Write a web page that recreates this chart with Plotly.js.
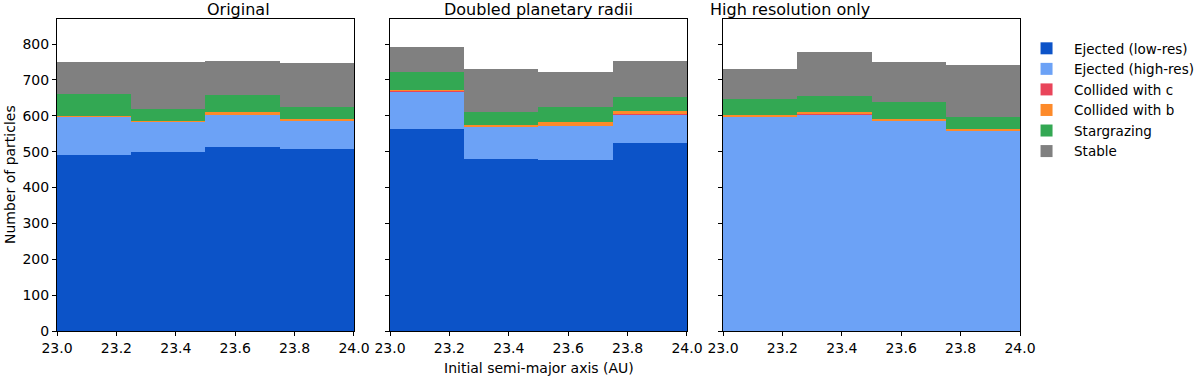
<!DOCTYPE html>
<html>
<head>
<meta charset="utf-8">
<script src="https://cdn.plot.ly/plotly-3.0.1.min.js"></script>
<style>
  body { margin: 0; background: #fff; }
  #chartDiv { width: 1200px; height: 376px; }
</style>
</head>
<body>
<div id="chartDiv"></div>
<script>
// bin centres (bins are 0.25 AU wide, from 23.0 to 24.0)
var binCentres = [23.125, 23.375, 23.625, 23.875];
var binWidth = 0.25;

var seriesNames = ['Ejected (low-res)', 'Ejected (high-res)', 'Collided with c',
                   'Collided with b', 'Stargrazing', 'Stable'];
var seriesColors = ['#0c53c8', '#6ca2f6', '#e9455a', '#fd8a2a', '#33a853', '#808080'];

var panelTitles = ['Original', 'Doubled planetary radii', 'High resolution only'];

// counts per bin
var origLowRes   = [490, 500, 513, 508];
var origHighRes  = [106, 83, 89, 77];
var origCollC    = [1, 1, 1, 1];
var origCollB    = [3, 1, 7, 5];
var origStar     = [61, 33, 48, 34];
var origStable   = [88, 133, 95, 122];

var dblLowRes    = [563, 479, 478, 523];
var dblHighRes   = [104, 89, 93, 79];
var dblCollC     = [1, 1, 1, 4];
var dblCollB     = [4, 6, 11, 7];
var dblStar      = [50, 36, 43, 39];
var dblStable    = [70, 119, 97, 100];

var hiLowRes     = [0, 0, 0, 0];
var hiHighRes    = [597, 603, 585, 557];
var hiCollC      = [1, 1, 1, 1];
var hiCollB      = [5, 6, 5, 6];
var hiStar       = [43, 45, 48, 32];
var hiStable     = [84, 124, 110, 145];

var panels = [
    [origLowRes, origHighRes, origCollC, origCollB, origStar, origStable],
    [dblLowRes, dblHighRes, dblCollC, dblCollB, dblStar, dblStable],
    [hiLowRes, hiHighRes, hiCollC, hiCollB, hiStar, hiStable]
];

var data = [];
for (var p = 0; p < panels.length; p++) {
    for (var s = 0; s < seriesNames.length; s++) {
        data.push({
            type: 'bar',
            x: binCentres,
            y: panels[p][s],
            width: binWidth,
            name: seriesNames[s],
            legendgroup: seriesNames[s],
            showlegend: p == 0,
            marker: { color: seriesColors[s], line: { width: 0 } },
            xaxis: p == 0 ? 'x' : 'x' + (p + 1),
            yaxis: p == 0 ? 'y' : 'y' + (p + 1),
            hoverinfo: 'x+y+name'
        });
    }
}

var axisFont = { family: 'DejaVu Sans', size: 14, color: '#000' };
function xAxis(domain, anchor) {
    return {
        domain: domain, anchor: anchor, range: [23, 24], dtick: 0.2, tick0: 23,
        tickformat: '.1f', ticks: 'outside', ticklen: 4, tickcolor: '#000',
        showline: true, mirror: true, linecolor: '#000', linewidth: 1,
        showgrid: false, zeroline: false, tickfont: axisFont
    };
}
function yAxis(anchor, labels) {
    return {
        anchor: anchor, range: [0, 870], dtick: 100, ticks: 'outside', ticklen: 4,
        tickcolor: '#000', showticklabels: labels,
        showline: true, mirror: true, linecolor: '#000', linewidth: 1,
        showgrid: false, zeroline: false, tickfont: axisFont
    };
}

var domains = [[0, 0.3084], [0.3458, 0.6542], [0.6916, 1]];

var layout = {
    width: 1200, height: 376,
    margin: { l: 57, r: 180, t: 19, b: 45, autoexpand: false },
    paper_bgcolor: '#fff', plot_bgcolor: '#fff',
    barmode: 'stack', bargap: 0,
    font: { family: 'DejaVu Sans', color: '#000' },
    xaxis: xAxis(domains[0], 'y'),
    xaxis2: xAxis(domains[1], 'y2'),
    xaxis3: xAxis(domains[2], 'y3'),
    yaxis: yAxis('x', true),
    yaxis2: yAxis('x2', false),
    yaxis3: yAxis('x3', false),
    legend: {
        x: 0.999, y: 0.955, xanchor: 'left', yanchor: 'top',
        font: { family: 'DejaVu Sans', size: 13.5, color: '#000' },
        bgcolor: 'rgba(0,0,0,0)', borderwidth: 0, tracegroupgap: 0,
        itemwidth: 45
    },
    annotations: [
        { text: 'Initial semi-major axis (AU)', xref: 'paper', yref: 'paper',
          x: 0.5, y: 0, yanchor: 'middle', yshift: -37, showarrow: false,
          font: { family: 'DejaVu Sans', size: 14 } },
        { text: 'Number of particles', xref: 'paper', yref: 'paper',
          x: 0, xanchor: 'center', xshift: -47, y: 0.5, textangle: -90, showarrow: false,
          font: { family: 'DejaVu Sans', size: 14 } }
    ]
};

// panel titles above each subplot
for (var i = 0; i < panelTitles.length; i++) {
    layout.annotations.push({
        text: panelTitles[i], xref: 'paper', yref: 'paper',
        x: (domains[i][0] + domains[i][1]) / 2, y: 1, yanchor: 'middle', yshift: 10,
        showarrow: false, font: { family: 'DejaVu Sans', size: 16 }
    });
}

Plotly.newPlot('chartDiv', data, layout, { displayModeBar: false, staticPlot: true });
</script>
</body>
</html>
